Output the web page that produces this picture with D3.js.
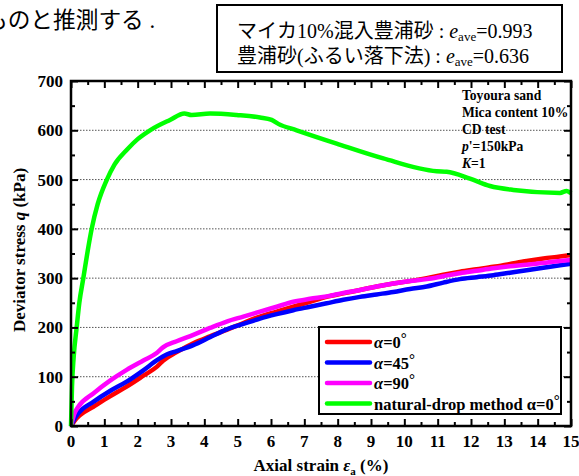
<!DOCTYPE html>
<html>
<head>
<meta charset="utf-8">
<script src="https://cdn.jsdelivr.net/npm/d3@7"></script>
<style>
  html, body { margin: 0; padding: 0; background: #fff; }
  svg { display: block; }
</style>
</head>
<body>
<svg id="chart" width="579" height="476"></svg>
<script>
// Deviator stress vs axial strain, drained triaxial (CD) tests
const strainRed = [0, 0.1, 0.27, 0.67, 1.17, 1.67, 2.17, 2.57, 2.77, 3.17, 3.67, 4.17, 4.67, 5.17, 5.67, 6.17, 6.67, 7.17, 7.67, 8.17, 8.67, 9.17, 9.67, 10.17, 10.67, 11.17, 11.67, 12.17, 12.67, 13.17, 13.67, 14.17, 14.67, 15];
const qRed =      [0, 10, 22, 39, 60, 80, 102, 120, 133, 150, 168, 182, 195, 209, 222, 232, 242, 252, 262, 269, 276, 283, 289, 294, 300, 307, 313, 318, 323, 329, 335, 340, 344, 347];

const strainBlue = [0, 0.1, 0.22, 0.67, 1.17, 1.67, 2.17, 2.57, 2.87, 3.17, 3.67, 4.17, 4.67, 5.17, 5.67, 6.17, 6.67, 7.17, 7.67, 8.17, 8.67, 9.17, 9.67, 10.17, 10.67, 11.17, 11.67, 12.17, 12.67, 13.17, 13.67, 14.17, 14.67, 15];
const qBlue =      [0, 14, 26, 49, 71, 90, 113, 133, 145, 152, 164, 180, 196, 207, 218, 227, 235, 242, 249, 256, 262, 267, 272, 278, 283, 291, 298, 302, 306, 311, 316, 321, 326, 329];

const strainMagenta = [0, 0.1, 0.22, 0.67, 1.17, 1.67, 2.17, 2.57, 2.77, 3.17, 3.67, 4.17, 4.67, 5.17, 5.67, 6.17, 6.67, 7.17, 7.67, 8.17, 8.67, 9.17, 9.67, 10.17, 10.67, 11.17, 11.67, 12.17, 12.67, 13.17, 13.67, 14.17, 14.67, 15];
const qMagenta =      [0, 25, 39, 66, 92, 114, 133, 148, 160, 172, 185, 199, 212, 222, 232, 242, 252, 258, 263, 270, 276, 283, 289, 294, 298, 304, 310, 315, 320, 324, 327, 331, 335, 337];

const strainGreen = [0, 0.03, 0.08, 0.17, 0.25, 0.37, 0.5, 0.62, 0.8, 1.07, 1.3, 1.67, 2.0, 2.37, 2.97, 3.4, 3.62, 4.17, 4.97, 5.67, 6.02, 6.22, 6.77, 7.97, 9.37, 10.97, 11.27, 11.97, 12.57, 13.27, 14.67, 14.87, 15];
const qGreen =      [0, 80, 140, 200, 250, 300, 355, 400, 450, 499, 530, 560, 582, 600, 621, 634, 631, 634, 631, 626, 621, 613, 600, 573, 543, 517, 516, 502, 487, 479, 473, 477, 472];

const xTicks = d3.range(0, 16, 1);
const yTicks = d3.range(0, 701, 100);
const gridValues = [100, 200, 300, 400, 500, 600];

const series = [
  { name: "α=0", italic: true, color: "#ff0000", x: strainRed, y: qRed },
  { name: "α=45", italic: true, color: "#0000ff", x: strainBlue, y: qBlue },
  { name: "α=90", italic: true, color: "#ff00ff", x: strainMagenta, y: qMagenta },
  { name: "natural-drop method α=0", italic: false, color: "#00ff00", x: strainGreen, y: qGreen }
];

const conditions = [
  [{ t: "Toyoura sand" }],
  [{ t: "Mica content 10%" }],
  [{ t: "CD test" }],
  [{ t: "p", i: true }, { t: "'=150kPa" }],
  [{ t: "K", i: true }, { t: "=1" }]
];

const svg = d3.select("#chart");
const serif = "'Liberation Serif', 'Times New Roman', serif";
const mixed = "'Liberation Serif', 'Noto Sans CJK JP', serif";

const plotLeft = 71, plotRight = 571, plotTop = 81, plotBottom = 426;
const x = d3.scaleLinear().domain([0, 15]).range([plotLeft, plotRight]);
const y = d3.scaleLinear().domain([0, 700]).range([plotBottom, plotTop]);

// Sentence fragment above the chart
svg.append("text")
  .attr("x", -15).attr("y", 28)
  .attr("font-family", mixed).attr("font-size", 22.7)
  .text("ものと推測する .");

// Void ratio note box
const note = svg.append("g");
note.append("rect")
  .attr("x", 217).attr("y", 5).attr("width", 345).attr("height", 67)
  .attr("fill", "#fff").attr("stroke", "#000").attr("stroke-width", 2);
const noteLines = [
  { pre: "マイカ10%混入豊浦砂 : ", val: "=0.993", y: 38 },
  { pre: "豊浦砂(ふるい落下法) : ", val: "=0.636", y: 63 }
];
noteLines.forEach(l => {
  const t = note.append("text")
    .attr("x", 237).attr("y", l.y)
    .attr("font-family", mixed).attr("font-size", 20);
  t.append("tspan").text(l.pre);
  t.append("tspan").attr("font-style", "italic").text("e");
  t.append("tspan").attr("font-size", 13).attr("dy", 3).text("ave");
  t.append("tspan").attr("dy", -3).text(l.val);
});

// Horizontal dotted grid
svg.append("g").selectAll("line").data(gridValues).join("line")
  .attr("x1", plotLeft).attr("x2", plotRight)
  .attr("y1", d => y(d)).attr("y2", d => y(d))
  .attr("stroke", "#555").attr("stroke-width", 1)
  .attr("stroke-dasharray", "1.5,1.5");

// Curves
const plot = svg.append("g");
const line = d3.line().x(d => x(d[0])).y(d => y(d[1])).curve(d3.curveMonotoneX);
series.forEach(s => {
  plot.append("path")
    .datum(s.x.map((v, i) => [v, s.y[i]]))
    .attr("d", line)
    .attr("fill", "none")
    .attr("stroke", s.color)
    .attr("stroke-width", 4.5)
    .attr("stroke-linejoin", "round");
});

// Axes with inward ticks on all four sides
const xMinor = d3.range(0.5, 15, 1);
const yMinor = d3.range(50, 700, 100);
function addAxis(axis, transform, major, minor) {
  const g = svg.append("g").attr("transform", transform);
  g.call(axis.tickValues(minor).tickSize(-4).tickFormat(""));
  g.select(".domain").remove();
  const g2 = svg.append("g").attr("transform", transform);
  g2.call(axis.tickValues(major).tickSize(-7).tickFormat(""));
  g2.select(".domain").remove();
  [g, g2].forEach(gg => gg.selectAll("line").attr("stroke", "#000").attr("stroke-width", 2));
}
addAxis(d3.axisBottom(x), `translate(0,${plotBottom})`, xTicks, xMinor);
addAxis(d3.axisTop(x), `translate(0,${plotTop})`, xTicks, xMinor);
addAxis(d3.axisLeft(y), `translate(${plotLeft},0)`, yTicks, yMinor);
addAxis(d3.axisRight(y), `translate(${plotRight},0)`, yTicks, yMinor);

svg.append("rect")
  .attr("x", plotLeft).attr("y", plotTop)
  .attr("width", plotRight - plotLeft).attr("height", plotBottom - plotTop)
  .attr("fill", "none").attr("stroke", "#000").attr("stroke-width", 2.5);

// Tick labels
svg.append("g").selectAll("text").data(xTicks).join("text")
  .attr("x", d => x(d)).attr("y", 447)
  .attr("text-anchor", "middle")
  .attr("font-family", serif).attr("font-weight", "bold").attr("font-size", 17)
  .text(d => d);
svg.append("g").selectAll("text").data(yTicks).join("text")
  .attr("x", 63).attr("y", d => y(d) + 6)
  .attr("text-anchor", "end")
  .attr("font-family", serif).attr("font-weight", "bold").attr("font-size", 17)
  .text(d => d);

// Axis titles
const xt = svg.append("text")
  .attr("x", 321).attr("y", 471)
  .attr("text-anchor", "middle")
  .attr("font-family", serif).attr("font-weight", "bold").attr("font-size", 17);
xt.append("tspan").text("Axial strain ");
xt.append("tspan").attr("font-style", "italic").text("ε");
xt.append("tspan").attr("font-size", 11).attr("dy", 4).text("a");
xt.append("tspan").attr("dy", -4).text(" (%)");

const yt = svg.append("text")
  .attr("transform", "translate(25,250) rotate(-90)")
  .attr("text-anchor", "middle")
  .attr("font-family", serif).attr("font-weight", "bold").attr("font-size", 17);
yt.append("tspan").text("Deviator stress ");
yt.append("tspan").attr("font-style", "italic").text("q");
yt.append("tspan").text(" (kPa)");

// Test conditions
const cond = svg.append("g");
conditions.forEach((row, i) => {
  const t = cond.append("text")
    .attr("x", 462).attr("y", 100 + i * 17)
    .attr("font-family", serif).attr("font-weight", "bold").attr("font-size", 13.6);
  row.forEach(p => t.append("tspan").attr("font-style", p.i ? "italic" : "normal").text(p.t));
});

// Legend
const lg = svg.append("g");
lg.append("rect")
  .attr("x", 319).attr("y", 327).attr("width", 242).attr("height", 87)
  .attr("fill", "#fff").attr("stroke", "#000").attr("stroke-width", 2);
series.forEach((s, i) => {
  const cy = 342 + i * 20.5;
  lg.append("line")
    .attr("x1", 327).attr("x2", 370).attr("y1", cy).attr("y2", cy)
    .attr("stroke", s.color).attr("stroke-width", 4.5).attr("stroke-linecap", "round");
  const t = lg.append("text")
    .attr("x", 374).attr("y", cy + 6)
    .attr("font-family", serif).attr("font-weight", "bold").attr("font-size", 16.5);
  if (s.italic) {
    t.append("tspan").attr("font-style", "italic").text("α");
    t.append("tspan").text(s.name.slice(1));
  } else {
    t.append("tspan").text(s.name);
  }
  t.append("tspan").attr("dy", -5).attr("font-size", 15).text("°");
});
</script>
</body>
</html>
